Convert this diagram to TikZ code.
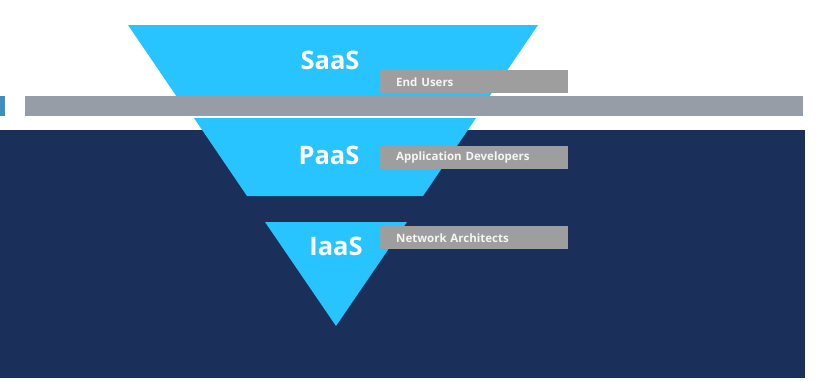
\documentclass[tikz,border=0pt]{standalone}
\usepackage{fontspec}
\setmainfont{Open Sans}
\definecolor{skyblue}{RGB}{40,196,255}
\definecolor{deepnavy}{RGB}{27,47,91}
\definecolor{bargray}{RGB}{151,157,166}
\definecolor{taggray}{RGB}{158,158,158}
\definecolor{edgeblue}{RGB}{62,142,191}
\usetikzlibrary{positioning}

\tikzset{
  layer/.style={fill=skyblue},
  tier/.style={text=white,font=\fontsize{25.5}{30}\selectfont\bfseries},
  rolebox/.style={fill=taggray,text=white!92!gray,anchor=north west,
    font=\fontsize{11.5}{12}\selectfont\bfseries,
    minimum width=188pt,minimum height=23pt,inner xsep=16pt,
    text width=156pt,align=left}
}

\begin{document}
\begin{tikzpicture}[x=1pt,y=-1pt]
  \useasboundingbox[fill=white] (0,0) rectangle (818,380);
  % backdrop
  \fill[deepnavy] (0,130) rectangle (805,378);
  % top layer
  \fill[layer] (128,25) -- (538,25) -- (489,97) -- (177,97) -- cycle;
  \fill[bargray] (25,96) rectangle (803,116);
  \fill[edgeblue] (0,96) rectangle (5,116);
  % middle and bottom layers
  \fill[layer] (194,118) -- (476,118) -- (423,196) -- (247,196) -- cycle;
  \fill[layer] (265,222) -- (407,222) -- (336,326) -- cycle;

  \node[tier] (saas) at (330,60) {SaaS};
  \node[tier] (paas) at (329,155) {PaaS};
  \node[tier] (iaas) at (336,246) {IaaS};

  \node[rolebox] (users) at (380,70) {End Users};
  \node[rolebox] (devs) at (380,146) {Application Developers};
  \node[rolebox] (archs) at (380,226) {Network Architects};
\end{tikzpicture}
\end{document}
